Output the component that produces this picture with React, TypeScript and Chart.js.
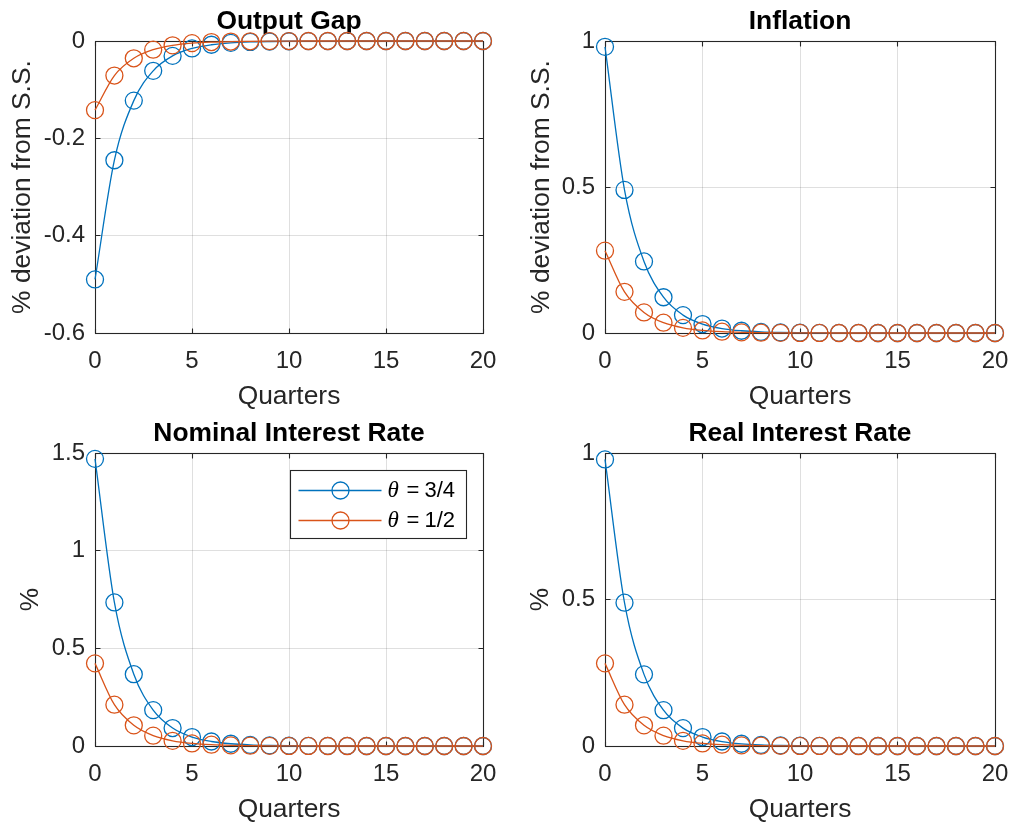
import React, { useEffect, useRef } from 'react';
import { Chart, registerables } from 'chart.js';

Chart.register(...registerables);

// ---------- data ----------
const quarters = [0, 1, 2, 3, 4, 5, 6, 7, 8, 9, 10, 11, 12, 13, 14, 15, 16, 17, 18, 19, 20];
const thetaValues = ['3/4', '1/2'];

const outputGap34 = [-0.49, -0.245, -0.1225, -0.0613, -0.0306, -0.0153, -0.0077, -0.0038, -0.0019, -0.001, -0.0005, -0.0002, -0.0001, 0, 0, 0, 0, 0, 0, 0, 0];
const outputGap12 = [-0.142, -0.071, -0.0355, -0.0178, -0.0089, -0.0044, -0.0022, -0.0011, -0.0006, -0.0003, -0.0001, 0, 0, 0, 0, 0, 0, 0, 0, 0, 0];

const inflation34 = [0.98, 0.49, 0.245, 0.1225, 0.0613, 0.0306, 0.0153, 0.0077, 0.0038, 0.0019, 0.001, 0.0005, 0.0002, 0.0001, 0, 0, 0, 0, 0, 0, 0];
const inflation12 = [0.282, 0.141, 0.0705, 0.0353, 0.0176, 0.0088, 0.0044, 0.0022, 0.0011, 0.0006, 0.0003, 0.0001, 0, 0, 0, 0, 0, 0, 0, 0, 0];

const nominal34 = [1.47, 0.735, 0.3675, 0.1838, 0.0919, 0.0459, 0.023, 0.0115, 0.0057, 0.0029, 0.0014, 0.0007, 0.0004, 0.0002, 0.0001, 0, 0, 0, 0, 0, 0];
const nominal12 = [0.423, 0.2115, 0.1058, 0.0529, 0.0264, 0.0132, 0.0066, 0.0033, 0.0017, 0.0008, 0.0004, 0.0002, 0.0001, 0, 0, 0, 0, 0, 0, 0, 0];

const real34 = [0.978, 0.489, 0.2445, 0.1223, 0.0611, 0.0306, 0.0153, 0.0076, 0.0038, 0.0019, 0.001, 0.0005, 0.0002, 0.0001, 0, 0, 0, 0, 0, 0, 0];
const real12 = [0.282, 0.141, 0.0705, 0.0353, 0.0176, 0.0088, 0.0044, 0.0022, 0.0011, 0.0006, 0.0003, 0.0001, 0, 0, 0, 0, 0, 0, 0, 0, 0];

const xTicksStep = 5;

// ---------- styles ----------
const BLUE = '#0072BD';
const ORANGE = '#D95319';
const AXIS = '#262626';
const GRID = 'rgba(38,38,38,0.15)';
const FONT = '"Liberation Sans", Arial, Helvetica, sans-serif';

const framePlugin = {
  id: 'frame',
  beforeDatasetsDraw(chart: any) {
    const { ctx, chartArea: a, scales } = chart;
    const L = Math.floor(a.left) + 0.5;
    const R = Math.floor(a.right) + 0.5;
    const T = Math.floor(a.top) + 0.5;
    const B = Math.floor(a.bottom) + 0.5;
    ctx.save();
    ctx.strokeStyle = AXIS;
    ctx.lineWidth = 1.1;
    ctx.strokeRect(L, T, R - L, B - T);
    const tl = 5;
    ctx.beginPath();
    scales.x.ticks.forEach((t: any) => {
      const px = Math.floor(scales.x.getPixelForValue(t.value)) + 0.5;
      ctx.moveTo(px, B);
      ctx.lineTo(px, B - tl);
      ctx.moveTo(px, T);
      ctx.lineTo(px, T + tl);
    });
    scales.y.ticks.forEach((t: any) => {
      const py = Math.floor(scales.y.getPixelForValue(t.value)) + 0.5;
      ctx.moveTo(L, py);
      ctx.lineTo(L + tl, py);
      ctx.moveTo(R, py);
      ctx.lineTo(R - tl, py);
    });
    ctx.stroke();
    ctx.restore();
  },
};

const legendPlugin = {
  id: 'innerLegend',
  afterDatasetsDraw(chart: any) {
    const { ctx, chartArea: a } = chart;
    const w = 176;
    const h = 68;
    const x = Math.floor(a.right - 17 - w) + 0.5;
    const y = Math.floor(a.top + 17) + 0.5;
    ctx.save();
    ctx.fillStyle = '#ffffff';
    ctx.fillRect(x, y, w, h);
    ctx.strokeStyle = AXIS;
    ctx.lineWidth = 1.1;
    ctx.strokeRect(x, y, w, h);
    const order = [1, 0];
    order.forEach((di, i) => {
      const ds = chart.data.datasets[di];
      const ly = y + 20 + i * 30;
      ctx.strokeStyle = ds.borderColor;
      ctx.lineWidth = 1.3;
      ctx.beginPath();
      ctx.moveTo(x + 8, ly);
      ctx.lineTo(x + 91, ly);
      ctx.stroke();
      ctx.beginPath();
      ctx.arc(x + 50, ly, 8.5, 0, Math.PI * 2);
      ctx.stroke();
      ctx.fillStyle = '#000000';
      ctx.textBaseline = 'middle';
      ctx.textAlign = 'left';
      ctx.font = 'italic 23px "Liberation Serif", "DejaVu Serif", serif';
      ctx.fillText('θ', x + 97, ly);
      ctx.font = '22px ' + FONT;
      ctx.fillText('=', x + 116, ly);
      ctx.fillText(thetaValues[i], x + 134, ly);
    });
    ctx.restore();
  },
};

type PanelProps = {
  title: string;
  yLabel: string;
  a: number[];
  b: number[];
  yMin: number;
  yMax: number;
  yStep: number;
  left: number;
  top: number;
  width: number;
  height: number;
  yAxisWidth: number;
  yTitlePad: number;
  padRight: number;
  legend?: boolean;
};

function Panel(p: PanelProps) {
  const ref = useRef<HTMLCanvasElement>(null);
  useEffect(() => {
    if (!ref.current) return;
    const mk = (vals: number[]) => quarters.map((q, i) => ({ x: q, y: vals[i] }));
    const common = {
      borderWidth: 1.3,
      pointRadius: 8.5,
      pointBorderWidth: 1.3,
      pointBackgroundColor: 'rgba(0,0,0,0)',
      pointHoverRadius: 8.5,
      cubicInterpolationMode: 'monotone' as const,
      fill: false,
      clip: false as any,
    };
    const plugins: any[] = [framePlugin];
    if (p.legend) plugins.push(legendPlugin);
    const chart = new Chart(ref.current, {
      type: 'line',
      data: {
        datasets: [
          { ...common, label: 'θ = ' + thetaValues[1], data: mk(p.b), borderColor: ORANGE, pointBorderColor: ORANGE, order: 0 },
          { ...common, label: 'θ = ' + thetaValues[0], data: mk(p.a), borderColor: BLUE, pointBorderColor: BLUE, order: 1 },
        ],
      },
      options: {
        animation: false,
        responsive: false,
        events: [],
        layout: { padding: { left: 0, right: p.padRight, top: 0, bottom: 0 } },
        plugins: {
          legend: { display: false },
          tooltip: { enabled: false },
          title: {
            display: true,
            text: p.title,
            fullSize: false,
            color: '#000000',
            font: { family: FONT, size: 26.4, weight: 'bold', lineHeight: 1.2 },
            padding: { top: 6, bottom: 3.32 },
          },
        },
        scales: {
          x: {
            type: 'linear',
            min: 0,
            max: 20,
            afterFit(s: any) {
              s.height = 79;
              s.paddingLeft = 0;
              s.paddingRight = 0;
            },
            ticks: {
              stepSize: xTicksStep,
              padding: 14,
              color: AXIS,
              maxRotation: 0,
              autoSkip: false,
              font: { family: FONT, size: 24 },
            },
            grid: { color: GRID, drawTicks: false, lineWidth: 1 },
            border: { display: false },
            title: {
              display: true,
              text: 'Quarters',
              color: AXIS,
              font: { family: FONT, size: 26.4, lineHeight: 1.2 },
              padding: { top: 0, bottom: -1 },
            },
          },
          y: {
            type: 'linear',
            min: p.yMin,
            max: p.yMax,
            afterFit(s: any) {
              s.width = p.yAxisWidth;
              s.paddingTop = 0;
              s.paddingBottom = 0;
            },
            ticks: {
              stepSize: p.yStep,
              padding: 10,
              color: AXIS,
              font: { family: FONT, size: 24 },
              callback: (v: any) => String(Math.round(Number(v) * 10) / 10),
            },
            grid: { color: GRID, drawTicks: false, lineWidth: 1 },
            border: { display: false },
            title: {
              display: true,
              text: p.yLabel,
              color: AXIS,
              font: { family: FONT, size: 26.4, lineHeight: 1.2 },
              padding: { top: p.yTitlePad, bottom: 0 },
            },
          },
        },
      } as any,
      plugins,
    });
    return () => chart.destroy();
  }, []);
  return (
    <canvas
      ref={ref}
      width={p.width}
      height={p.height}
      style={{ position: 'absolute', left: p.left, top: p.top, width: p.width, height: p.height }}
    />
  );
}

export default function App() {
  return (
    <div style={{ position: 'absolute', left: 0, top: 0, width: 1011, height: 825, background: '#ffffff', overflow: 'hidden' }}>
      <Panel title="Output Gap" yLabel="% deviation from S.S." a={outputGap34} b={outputGap12}
        yMin={-0.6} yMax={0} yStep={0.2}
        left={0} top={0} width={505} height={412} yAxisWidth={95} yTitlePad={7} padRight={22} />
      <Panel title="Inflation" yLabel="% deviation from S.S." a={inflation34} b={inflation12}
        yMin={0} yMax={1} yStep={0.5}
        left={505} top={0} width={506} height={412} yAxisWidth={100} yTitlePad={21} padRight={16} />
      <Panel title="Nominal Interest Rate" yLabel="%" a={nominal34} b={nominal12}
        yMin={0} yMax={1.5} yStep={0.5}
        left={0} top={412} width={505} height={413} yAxisWidth={95} yTitlePad={15} padRight={22} legend />
      <Panel title="Real Interest Rate" yLabel="%" a={real34} b={real12}
        yMin={0} yMax={1} yStep={0.5}
        left={505} top={412} width={506} height={413} yAxisWidth={100} yTitlePad={20} padRight={16} />
    </div>
  );
}
